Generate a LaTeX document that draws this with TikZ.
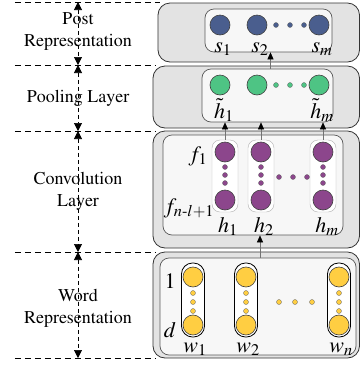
\documentclass[tikz,border=0pt]{standalone}
\usepackage[T1]{fontenc}
\usepackage{mathptmx}
\usepackage{amsmath}
\usetikzlibrary{arrows.meta}
\definecolor{postblue}{RGB}{74,94,142}
\definecolor{poolgreen}{RGB}{78,196,132}
\definecolor{convpurple}{RGB}{140,70,140}
\definecolor{wordyellow}{RGB}{255,206,66}
\tikzset{
	guide/.style={line width=0.9pt, dash pattern=on 6pt off 4pt},
	span/.style={line width=0.7pt, dash pattern=on 4pt off 3pt,
		{Triangle[width=8pt,length=8pt]}-{Triangle[width=8pt,length=8pt]}},
	outbox/.style={draw=black!80, fill=black!11, line width=0.8pt, rounded corners=12pt},
	inbox/.style={draw=black!65, fill=black!3, line width=0.7pt, rounded corners=9pt, inner sep=0},
	layertext/.style={font=\fontsize{18}{22}\selectfont, align=center},
	lab/.style={font=\fontsize{22}{26}\selectfont, inner sep=0, anchor=base},
	ball/.style={circle, draw=black!75, line width=0.6pt, minimum size=20pt, inner sep=0},
	convstack/.style={draw=black!30, fill=white, line width=0.4pt, rounded corners=8pt,
		minimum width=26pt, minimum height=72pt, inner sep=0},
	wordstack/.style={draw=black, fill=white, line width=0.8pt, rounded corners=11pt,
		minimum width=23pt, minimum height=74pt, inner sep=0},
	flow/.style={draw=black!55, line width=0.5pt, -{Triangle[width=6pt,length=7pt,color=black]}}
}
\def\dotrow(#1,#2)[#3]{\draw[fill=#3, draw=black!60, line width=0.3pt] (#1,#2) circle (2.5pt);}

\begin{document}
\begin{tikzpicture}[x=1pt, y=-1pt]
			%%%%% GUIDES %%%%%
			\useasboundingbox (0,0) rectangle (361,368);
			
			\draw[guide] (15,2) -- (160,2);
			\draw[guide] (15,65) -- (156,65);
			\draw[guide] (15,131) -- (156,131);
			\draw[guide] (15,252) -- (156,252);
			\draw[guide] (15,358) -- (156,358);
			
			\coordinate (g0) at (78,2);
			\coordinate (g1) at (78,65);
			\coordinate (g2) at (78,131);
			\coordinate (g3) at (78,252);
			\coordinate (g4) at (78,358);
			\draw[span] (g0) -- (g1);
			\draw[span] (g1) -- (g2);
			\draw[span] (g2) -- (g3);
			\draw[span] (g3) -- (g4);
			
			\node[layertext] (tpost) at (78,32) {Post\\Representation};
			\node[layertext] (tpool) at (78,98) {Pooling Layer};
			\node[layertext] (tconv) at (78,191) {Convolution\\Layer};
			\node[layertext] (tword) at (78,308.5) {Word\\Representation};
			
			%%%%% BOXES %%%%%
			\draw[outbox] (158,3) rectangle (359.5,62);
			\draw[outbox] (153,66) rectangle (359.5,128);
			\draw[outbox] (153,131) rectangle (359.5,248);
			\draw[outbox] (153,252) rectangle (359.5,358);
			
			\node[inbox, minimum width=127pt, minimum height=43pt] (postin) at (268.5,30.5) {};
			\node[inbox, minimum width=131pt, minimum height=53pt] (poolin) at (267.5,95.5) {};
			\node[inbox, minimum width=180pt, minimum height=100pt] (convin) at (253,185) {};
			\node[inbox, minimum width=196pt, minimum height=97pt] (wordin) at (258,306.5) {};
			
			%%%%% POST %%%%%
			\node[ball, fill=postblue] (s1) at (220,25) {};
			\node[ball, fill=postblue] (s2) at (257,25) {};
			\node[ball, fill=postblue] (sm) at (319,25) {};
			\dotrow(276,25)[postblue]
			\dotrow(290,25)[postblue]
			\dotrow(304,25)[postblue]
			\node[lab] (ls1) at (223,52) {$s_1$};
			\node[lab] (ls2) at (260,52) {$s_2$};
			\node[lab] (lsm) at (322,52) {$s_m$};
			
			%%%%% POOLING %%%%%
			\node[ball, fill=poolgreen] (p1) at (220,85) {};
			\node[ball, fill=poolgreen] (p2) at (257,85) {};
			\node[ball, fill=poolgreen] (pm) at (319,85) {};
			\dotrow(276,85)[poolgreen]
			\dotrow(290,85)[poolgreen]
			\dotrow(304,85)[poolgreen]
			\node[lab] (lp1) at (224,118) {$\tilde{h}_1$};
			\node[lab] (lpm) at (322,118) {$\tilde{h}_m$};
			
			%%%%% CONVOLUTION %%%%%
			\node[convstack] (c1) at (225,176) {};
			\node[convstack] (c2) at (261,176) {};
			\node[convstack] (cm) at (323,176) {};
			
			\node[ball, fill=convpurple] (c1a) at (225,152) {};
			\node[ball, fill=convpurple] (c1b) at (225,200) {};
			\dotrow(225,167)[convpurple]
			\dotrow(225,175)[convpurple]
			\dotrow(225,183)[convpurple]
			
			\node[ball, fill=convpurple] (c2a) at (261,152) {};
			\node[ball, fill=convpurple] (c2b) at (261,200) {};
			\dotrow(261,167)[convpurple]
			\dotrow(261,175)[convpurple]
			\dotrow(261,183)[convpurple]
			
			\node[ball, fill=convpurple] (cma) at (323,152) {};
			\node[ball, fill=convpurple] (cmb) at (323,200) {};
			\dotrow(323,167)[convpurple]
			\dotrow(323,175)[convpurple]
			\dotrow(323,183)[convpurple]
			
			\dotrow(279,177)[convpurple]
			\dotrow(293,177)[convpurple]
			\dotrow(307,177)[convpurple]
			
			\node[lab] (lf1) at (198,161) {$f_1$};
			\node[lab] (lfn) at (189,213) {$f_{n\text{-}l+1}$};
			\node[lab] (lh1) at (228,232) {$h_1$};
			\node[lab] (lh2) at (264,232) {$h_2$};
			\node[lab] (lhm) at (327,232) {$h_m$};
			
			%%%%% WORD %%%%%
			\node[wordstack] (w1) at (193,300) {};
			\node[wordstack] (w2) at (246,300) {};
			\node[wordstack] (wn) at (339,300) {};
			
			\node[ball, fill=wordyellow] (w1a) at (193,277) {};
			\node[ball, fill=wordyellow] (w1b) at (193,325) {};
			\dotrow(193,293)[wordyellow]
			\dotrow(193,302)[wordyellow]
			\dotrow(193,311)[wordyellow]
			
			\node[ball, fill=wordyellow] (w2a) at (246,277) {};
			\node[ball, fill=wordyellow] (w2b) at (246,325) {};
			\dotrow(246,293)[wordyellow]
			\dotrow(246,302)[wordyellow]
			\dotrow(246,311)[wordyellow]
			
			\node[ball, fill=wordyellow] (wna) at (339,277) {};
			\node[ball, fill=wordyellow] (wnb) at (339,325) {};
			\dotrow(339,293)[wordyellow]
			\dotrow(339,302)[wordyellow]
			\dotrow(339,311)[wordyellow]
			
			\dotrow(279,302)[wordyellow]
			\dotrow(295,302)[wordyellow]
			\dotrow(312,302)[wordyellow]
			
			\node[lab] (lone) at (170,288) {$1$};
			\node[lab] (ld) at (170,337) {$d$};
			\node[lab] (lw1) at (195,352) {$w_1$};
			\node[lab] (lw2) at (248,352) {$w_2$};
			\node[lab] (lwn) at (341,352) {$w_n$};
			
			%%%%% ARROWS %%%%%
			\draw[flow] ([xshift=3pt]poolin.north) -- ([xshift=3pt]poolin.north |- postin.south);
			\draw[flow] (c1.north) -- (c1.north |- poolin.south);
			\draw[flow] (c2.north) -- (c2.north |- poolin.south);
			\draw[flow] (cm.north) -- (cm.north |- poolin.south);
			\draw[flow] ([xshift=-1pt]c2 |- wordin.north) -- ([xshift=-1pt]c2 |- convin.south);
			
			%%%%% END %%%%%
\end{tikzpicture}
\end{document}
